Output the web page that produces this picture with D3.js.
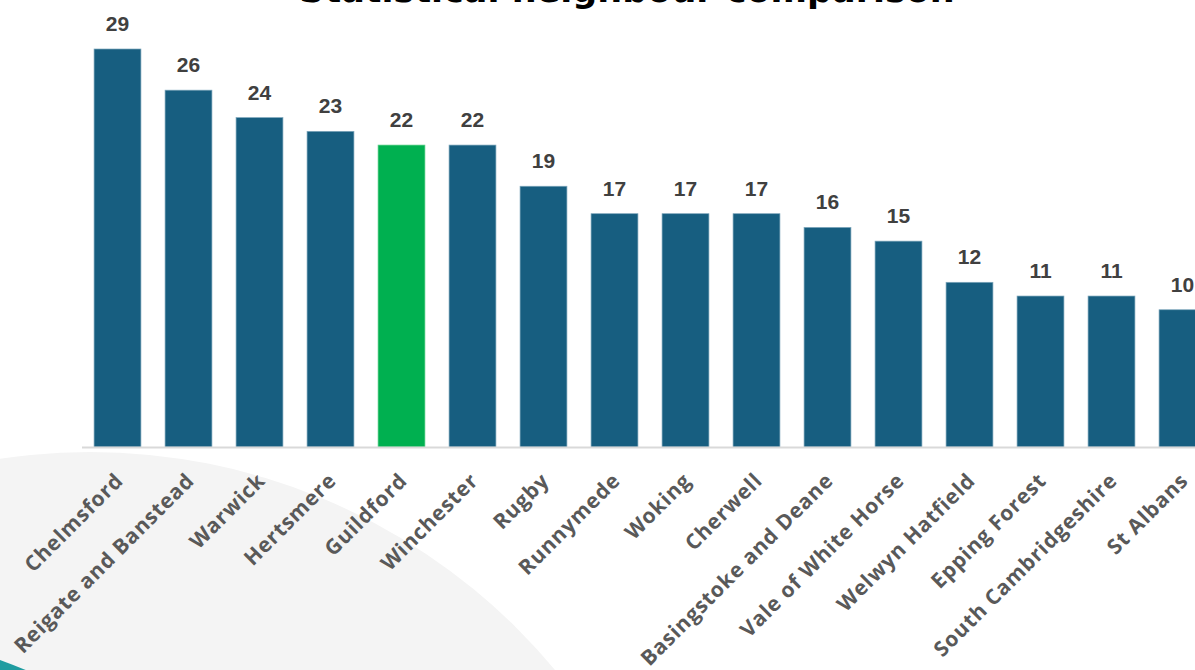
<!DOCTYPE html>
<html>
<head>
<meta charset="utf-8">
<script src="https://cdn.jsdelivr.net/npm/d3@7"></script>
<style>
  html, body { margin: 0; padding: 0; background: #ffffff; overflow: hidden; }
  svg { display: block; }
</style>
</head>
<body>
<svg id="chart" width="1195" height="670"></svg>
<script>
// Councils ranked against their statistical neighbours
const councils = [
  "Chelmsford", "Reigate and Banstead", "Warwick", "Hertsmere", "Guildford",
  "Winchester", "Rugby", "Runnymede", "Woking", "Cherwell",
  "Basingstoke and Deane", "Vale of White Horse", "Welwyn Hatfield",
  "Epping Forest", "South Cambridgeshire", "St Albans"
];
const values = [29, 26, 24, 23, 22, 22, 19, 17, 17, 17, 16, 15, 12, 11, 11, 10];
const highlighted = "Guildford";
const title = "Statistical neighbour comparison";

const W = 1195, H = 670;
const baseY = 447;
const svg = d3.select("#chart");

// Decorative background shapes
svg.append("circle")
  .attr("cx", 90).attr("cy", 1057).attr("r", 605)
  .attr("fill", "#f4f4f4");
svg.append("circle")
  .attr("cx", -296).attr("cy", 1460).attr("r", 853)
  .attr("fill", "#1f9ca0");

const x = d3.scaleBand()
  .domain(councils)
  .range([82, 82 + 71 * councils.length])
  .paddingInner(0.34)
  .paddingOuter(0.17);

const y = d3.scaleLinear()
  .domain([0, 29])
  .range([baseY, 49]);

// Bars
svg.append("g")
  .selectAll("rect")
  .data(councils)
  .join("rect")
  .attr("x", d => x(d))
  .attr("y", (d, i) => y(values[i]))
  .attr("width", x.bandwidth())
  .attr("height", (d, i) => baseY - y(values[i]))
  .attr("fill", d => d === highlighted ? "#00b050" : "#175e80")
  .attr("stroke", d => d === highlighted ? "#5fcf8c" : "#7da6bb")
  .attr("stroke-width", 0.7);

// Baseline
svg.append("line")
  .attr("x1", 82).attr("x2", W)
  .attr("y1", baseY + 0.5).attr("y2", baseY + 0.5)
  .attr("stroke", "#d9d9d9").attr("stroke-width", 2);

// Value labels
svg.append("g")
  .selectAll("text")
  .data(councils)
  .join("text")
  .attr("x", d => x(d) + x.bandwidth() / 2)
  .attr("y", (d, i) => y(values[i]) - 18)
  .attr("text-anchor", "middle")
  .attr("font-family", "'Liberation Sans', Arial, sans-serif")
  .attr("font-weight", "bold")
  .attr("font-size", 21)
  .attr("fill", "#404040")
  .text((d, i) => values[i]);

// Category labels (rotated)
const xAxis = d3.axisBottom(x).tickSize(0).tickPadding(0);
const axisG = svg.append("g")
  .attr("transform", `translate(0,${baseY})`)
  .call(xAxis);
axisG.select(".domain").remove();
axisG.selectAll("text")
  .attr("font-family", "'Open Sans', sans-serif")
  .attr("font-weight", "bold")
  .attr("font-size", 21)
  .attr("letter-spacing", 0.8)
  .attr("fill", "#595959")
  .attr("text-anchor", "end")
  .attr("dy", null)
  .attr("y", 0)
  .attr("transform", "translate(7,35) rotate(-45)");

// Title
svg.append("text")
  .attr("x", 627).attr("y", 2)
  .attr("text-anchor", "middle")
  .attr("font-family", "'DejaVu Sans', sans-serif")
  .attr("font-weight", "bold")
  .attr("font-size", 35)
  .attr("fill", "#000000")
  .text(title);
</script>
</body>
</html>
